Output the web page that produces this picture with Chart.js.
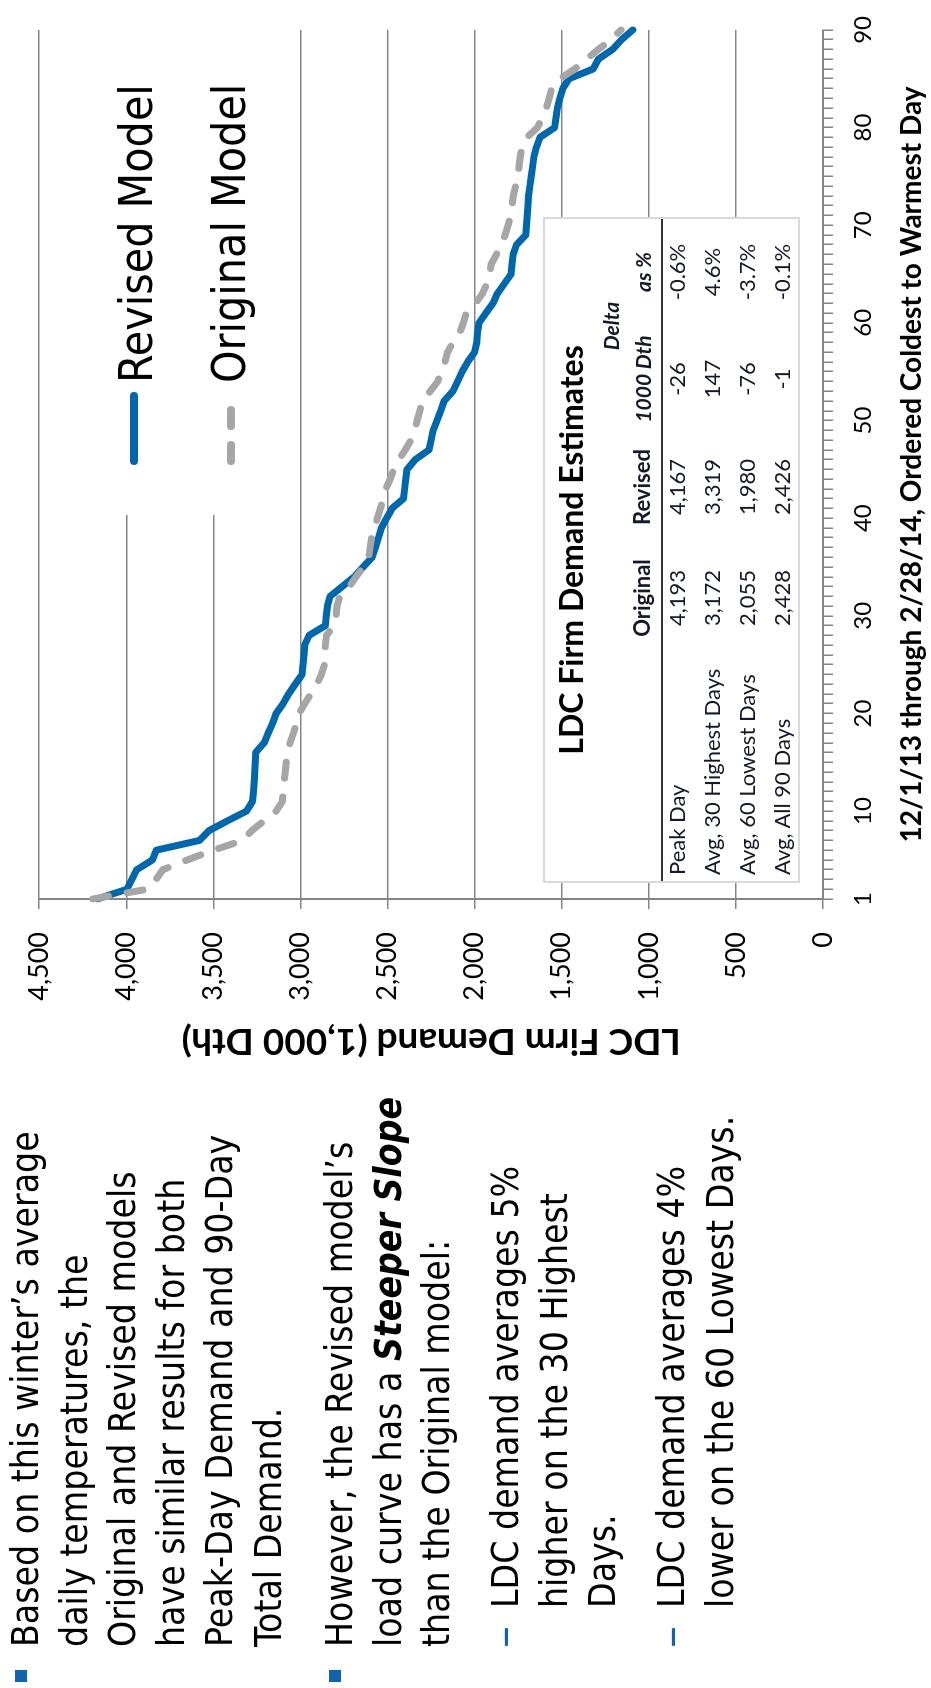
<!DOCTYPE html>
<html>
<head>
<meta charset="utf-8">
<title>LDC Firm Demand</title>
<script src="https://cdn.jsdelivr.net/npm/chart.js@4.4.1/dist/chart.umd.min.js"></script>
<style>
  html, body { margin: 0; padding: 0; background: #fff; }
  body { width: 931px; height: 1688px; overflow: hidden; position: relative; }
  /* slide is laid out landscape, then turned a quarter turn counter-clockwise */
  #slide { position: absolute; left: 0; top: 0; width: 1688px; height: 931px;
           transform-origin: 0 0; transform: translate(0, 1688px) rotate(-90deg); background: #fff; }
  #chart { position: absolute; left: 0; top: 0; }
  .notes { position: absolute; white-space: nowrap; color: #000;
           font-family: "DejaVu Sans Condensed", "DejaVu Sans", sans-serif; font-stretch: condensed;
           font-size: 37px; line-height: 48.6px; }
  .sq { position: absolute; width: 12px; height: 12px; background: #0f64ad; }
  .dash { position: absolute; color: #0f64ad; font-family: "DejaVu Sans", sans-serif;
          font-size: 44px; line-height: 44px; }
  #stats { position: absolute; left: 805px; top: 543px; width: 662px; height: 253px;
           background: #fff; border: 2px solid #d9d9d9; font-family: Lato, sans-serif; color: #15182a; }
  #stats div { position: absolute; white-space: nowrap; }
</style>
</head>
<body>
<div id="slide">
  <canvas id="chart" width="1688" height="931"></canvas>

  <div class="sq" style="left:6px; top:15px"></div>
  <div class="notes" style="left:41px; top:2px">Based on this winter’s average<br>daily temperatures, the<br>Original and Revised models<br>have similar results for both<br>Peak-Day Demand and 90-Day<br>Total Demand.</div>

  <div class="sq" style="left:6px; top:329px"></div>
  <div class="notes" style="left:41px; top:316px">However, the Revised model’s<br>load curve has a <b><i>Steeper Slope</i></b><br>than the Original model:</div>

  <div class="dash" style="left:40px; top:482px">–</div>
  <div class="notes" style="left:80px; top:482px">LDC demand averages 5%<br>higher on the 30 Highest<br>Days.</div>

  <div class="dash" style="left:40px; top:649px">–</div>
  <div class="notes" style="left:80px; top:648px">LDC demand averages 4%<br>lower on the 60 Lowest Days.</div>

  <div id="stats"></div>
</div>

<script>
'use strict';

// days ordered coldest to warmest, 12/1/13 - 2/28/14
var days = [];
for (let d = 1; d <= 90; d++) days.push(d);
var dayLabels = [1, 10, 20, 30, 40, 50, 60, 70, 80, 90];

// daily LDC firm demand, 1,000 Dth
var revised = [
  4167, 3996, 3968, 3940, 3850, 3828, 3580, 3525, 3420, 3310,
  3275, 3270, 3266, 3262, 3259, 3257, 3208, 3185, 3160, 3140,
  3100, 3068, 3030, 2991, 2985, 2980, 2976, 2950, 2857, 2852,
  2845, 2830, 2760, 2691, 2640, 2588, 2570, 2552, 2535, 2505,
  2474, 2408, 2402, 2396, 2388, 2341, 2262, 2250, 2238, 2216,
  2195, 2175, 2125, 2098, 2072, 2040, 2000, 1988, 1983, 1975,
  1935, 1895, 1870, 1830, 1791, 1785, 1779, 1760, 1706, 1702,
  1698, 1694, 1691, 1683, 1675, 1667, 1660, 1645, 1625, 1541,
  1533, 1525, 1510, 1494, 1458, 1320, 1290, 1208, 1157, 1092
];
var original = [
  4193, 3880, 3830, 3790, 3650, 3500, 3331, 3280, 3210, 3140,
  3104, 3098, 3093, 3088, 3082, 3076, 3060, 3040, 3022, 3008,
  2976, 2940, 2905, 2880, 2862, 2858, 2857, 2850, 2810, 2795,
  2790, 2775, 2720, 2680, 2640, 2608, 2600, 2591, 2575, 2558,
  2541, 2525, 2510, 2485, 2465, 2435, 2398, 2365, 2345, 2330,
  2315, 2300, 2255, 2212, 2192, 2170, 2155, 2125, 2085, 2065,
  2048, 1995, 1955, 1930, 1915, 1905, 1875, 1848, 1825, 1808,
  1792, 1785, 1778, 1765, 1752, 1745, 1738, 1728, 1700, 1640,
  1610, 1588, 1572, 1558, 1510, 1425, 1358, 1291, 1215, 1160
];

// summary table
var statRows = ['Peak Day', 'Avg, 30 Highest Days', 'Avg, 60 Lowest Days', 'Avg, All 90 Days'];
var statOriginal = [4193, 3172, 2055, 2428];
var statRevised = [4167, 3319, 1980, 2426];
var statDeltaDth = [-26, 147, -76, -1];
var statDeltaPct = [-0.6, 4.6, -3.7, -0.1];

var gridGray = '#858585';

// legend in a white box inside the top right of the plot
var legendBox = {
  id: 'legendBox',
  afterDraw(chart) {
    let ctx = chart.ctx;
    let lineY = [134, 231];
    let textY = [152, 245];
    ctx.save();
    ctx.fillStyle = '#fff';
    ctx.fillRect(1173, 40, 515, 232);
    chart.data.datasets.forEach((ds, i) => {
      ctx.strokeStyle = ds.borderColor;
      ctx.lineWidth = ds.borderWidth + 1;
      ctx.lineCap = 'round';
      ctx.setLineDash(ds.borderDash || []);
      ctx.beginPath();
      ctx.moveTo(1227, lineY[i]);
      ctx.lineTo(1292, lineY[i]);
      ctx.stroke();
      ctx.setLineDash([]);
      ctx.fillStyle = '#000';
      ctx.font = '46px "DejaVu Sans Condensed", "DejaVu Sans", sans-serif';
      ctx.textBaseline = 'alphabetic';
      ctx.textAlign = 'left';
      ctx.fillText(ds.label, 1305, textY[i]);
    });
    ctx.restore();
  }
};

new Chart(document.getElementById('chart'), {
  type: 'line',
  data: {
    labels: days,
    datasets: [
      {
        label: 'Revised Model',
        data: revised,
        borderColor: '#0067ac',
        borderWidth: 7,
        borderJoinStyle: 'round',
        borderCapStyle: 'round',
        pointRadius: 0,
        order: 1
      },
      {
        label: 'Original Model',
        data: original,
        borderColor: '#a6a6a6',
        borderWidth: 7,
        borderDash: [16, 19],
        borderCapStyle: 'round',
        pointRadius: 0,
        order: 0
      }
    ]
  },
  options: {
    responsive: false,
    animation: false,
    devicePixelRatio: 1,
    layout: { padding: { left: 560, top: 22, right: 20, bottom: 0 } },
    plugins: { legend: { display: false }, tooltip: { enabled: false } },
    scales: {
      x: {
        type: 'category',
        offset: false,
        grid: { drawOnChartArea: false, tickLength: 10, color: gridGray, lineWidth: 1.5 },
        border: { color: gridGray, width: 2 },
        ticks: {
          autoSkip: false,
          maxRotation: 0,
          padding: 16,
          color: '#000',
          font: { family: 'Lato', size: 24 },
          callback: function(value, index) {
            return dayLabels.includes(days[index]) ? String(days[index]) : '';
          }
        },
        title: {
          display: true,
          text: '12/1/13 through 2/28/14, Ordered Coldest to Warmest Day',
          color: '#000',
          font: { family: 'Lato', size: 28, weight: 'bold' },
          padding: { top: 0, bottom: 2 }
        },
        afterFit: function(scale) { scale.height = 108; }
      },
      y: {
        min: 0,
        max: 4500,
        grid: { color: gridGray, tickLength: 10, lineWidth: 1.5 },
        border: { color: gridGray, width: 2 },
        ticks: {
          stepSize: 500,
          padding: 23,
          color: '#000',
          font: { family: 'Lato', size: 27 },
          callback: function(value) { return value.toLocaleString('en-US'); }
        },
        title: {
          display: true,
          text: 'LDC Firm Demand (1,000 Dth)',
          color: '#000',
          font: { family: 'Lato', size: 37, weight: 'bold' },
          padding: { top: 65, bottom: 0 }
        },
        afterFit: function(scale) { scale.width = 229; }
      }
    }
  },
  plugins: [legendBox]
});

// summary table over the lower right of the plot
var stats = document.getElementById('stats');

function addCell(text, x, baseline, width, align, size, style) {
  let div = document.createElement('div');
  div.textContent = text;
  div.style.left = x + 'px';
  div.style.top = (baseline - 0.887 * size) + 'px';
  div.style.width = width + 'px';
  div.style.textAlign = align;
  div.style.fontSize = size + 'px';
  div.style.lineHeight = size + 'px';
  if (style) Object.assign(div.style, style);
  stats.appendChild(div);
}

var bold = { fontWeight: 'bold' };
var boldItalic = { fontWeight: 'bold', fontStyle: 'italic' };
var colX = [229, 340, 448, 555];

addCell('LDC Firm Demand Estimates', 0, 38, 662, 'center', 32, { fontWeight: 'bold', color: '#000' });
addCell('Delta', 495, 74, 120, 'center', 21, boldItalic);
addCell('Original', colX[0], 106, 108, 'center', 22, bold);
addCell('Revised', colX[1], 106, 108, 'center', 22, bold);
addCell('1000 Dth', colX[2], 106, 108, 'center', 21, boldItalic);
addCell('as %', colX[3], 106, 108, 'center', 21, boldItalic);

var rule = document.createElement('div');
rule.style.cssText = 'left:0;top:116px;width:662px;height:2px;background:#333';
stats.appendChild(rule);

for (let i = 0; i < statRows.length; i++) {
  let base = 141 + i * 34.7;
  addCell(statRows[i], 6, base, 223, 'left', 22);
  addCell(statOriginal[i].toLocaleString('en-US'), colX[0], base, 108, 'center', 22);
  addCell(statRevised[i].toLocaleString('en-US'), colX[1], base, 108, 'center', 22);
  addCell(String(statDeltaDth[i]), colX[2], base, 108, 'center', 22);
  addCell(statDeltaPct[i].toFixed(1) + '%', colX[3], base, 108, 'center', 22);
}
</script>
</body>
</html>
